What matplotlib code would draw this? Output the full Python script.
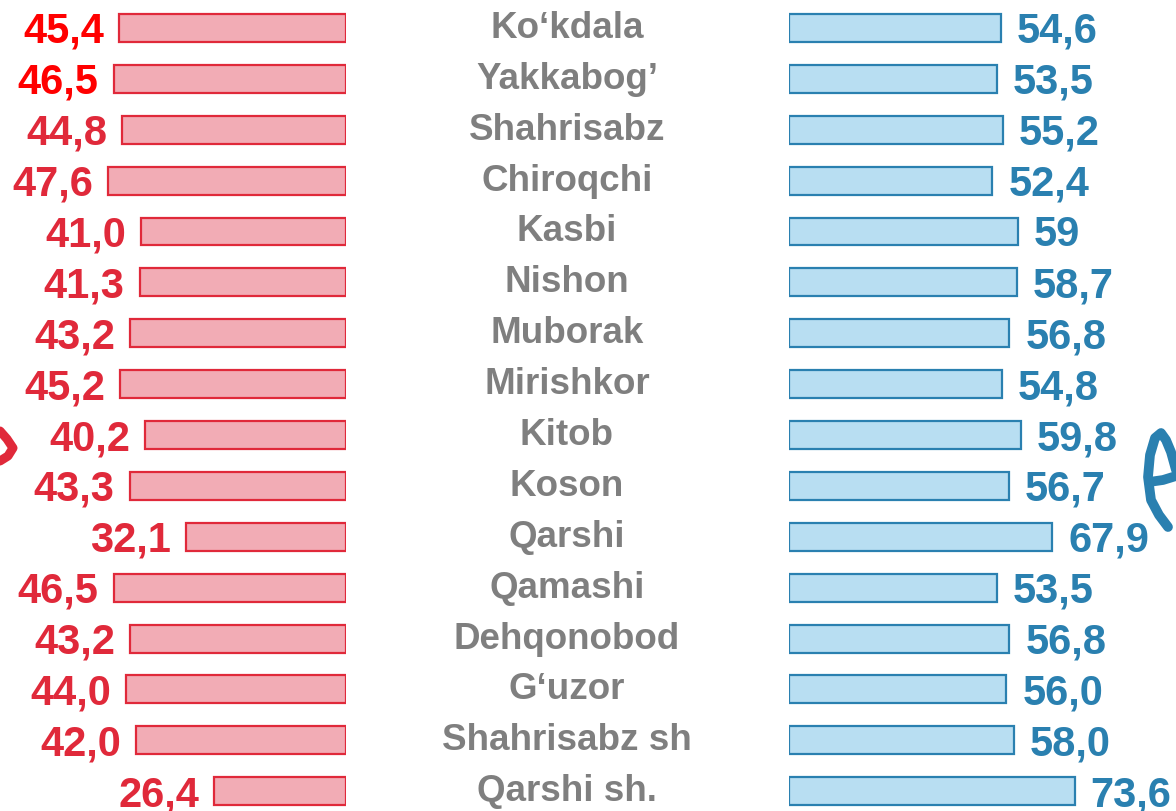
import numpy as np
import matplotlib
matplotlib.use("Agg")
import matplotlib.pyplot as plt

plt.rcParams["font.family"] = ["Liberation Sans", "DejaVu Sans"]

W, H = 1176, 811

districts = ["Ko‘kdala", "Yakkabog’", "Shahrisabz", "Chiroqchi", "Kasbi", "Nishon",
             "Muborak", "Mirishkor", "Kitob", "Koson", "Qarshi", "Qamashi",
             "Dehqonobod", "G‘uzor", "Shahrisabz sh", "Qarshi sh."]
women = [45.4, 46.5, 44.8, 47.6, 41.0, 41.3, 43.2, 45.2, 40.2, 43.3, 32.1, 46.5,
         43.2, 44.0, 42.0, 26.4]
women_labels = ["45,4", "46,5", "44,8", "47,6", "41,0", "41,3", "43,2", "45,2", "40,2",
                "43,3", "32,1", "46,5", "43,2", "44,0", "42,0", "26,4"]
men = [54.6, 53.5, 55.2, 52.4, 59.0, 58.7, 56.8, 54.8, 59.8, 56.7, 67.9, 53.5,
       56.8, 56.0, 58.0, 73.6]
men_labels = ["54,6", "53,5", "55,2", "52,4", "59", "58,7", "56,8", "54,8", "59,8",
              "56,7", "67,9", "53,5", "56,8", "56,0", "58,0", "73,6"]

RED_FILL, RED_EDGE = "#F2ACB5", "#E0293A"
BLUE_FILL, BLUE_EDGE = "#B8DEF2", "#2A80B0"
GRAY = "#7F7F7F"

y = np.arange(len(districts))
ylim = (15.39, -0.55)

fig = plt.figure(figsize=(W / 100, H / 100), dpi=100)

# left panel (women), bars grow to the left from x=346px
axL = fig.add_axes([0, 0, 346 / W, 1])
axL.barh(y, women, height=0.55, color=RED_FILL, edgecolor=RED_EDGE, linewidth=1.6)
axL.set_xlim(346 / 5.0, 0)
axL.set_ylim(*ylim)
axL.axis("off")

# right panel (men), bars grow to the right from x=789px
axR = fig.add_axes([789 / W, 0, (W - 789) / W, 1])
axR.barh(y, men, height=0.55, color=BLUE_FILL, edgecolor=BLUE_EDGE, linewidth=1.6)
axR.set_xlim(0, (W - 789) / 3.88)
axR.set_ylim(*ylim)
axR.axis("off")

for i, (v, lbl) in enumerate(zip(women, women_labels)):
    col = "#FF0000" if i < 2 else RED_EDGE
    axL.annotate(lbl, xy=(v, i), xytext=(-15, -15), textcoords="offset pixels",
                 ha="right", va="baseline", fontsize=30, fontweight="bold",
                 color=col, annotation_clip=False)

for i, (v, lbl) in enumerate(zip(men, men_labels)):
    axR.annotate(lbl, xy=(v, i), xytext=(16, -15), textcoords="offset pixels",
                 ha="left", va="baseline", fontsize=30, fontweight="bold",
                 color=BLUE_EDGE, annotation_clip=False)

for i, name in enumerate(districts):
    axL.annotate(name, xy=(567 / W, i), xycoords=("figure fraction", "data"),
                 xytext=(0, -10), textcoords="offset pixels",
                 ha="center", va="baseline", fontsize=26.5, fontweight="bold",
                 color=GRAY, annotation_clip=False)

# partial hand-drawn marks at the edges
deco = fig.add_axes([0, 0, 1, 1])
deco.set_xlim(0, W)
deco.set_ylim(H, 0)
deco.axis("off")
deco.patch.set_alpha(0)
deco.plot([0, 7, 13, 8, 0], [431, 439, 448, 456, 461], color=RED_EDGE,
          lw=6.5, solid_capstyle="round", solid_joinstyle="round")
deco.plot([1176, 1171, 1166, 1161, 1155, 1150, 1148, 1151, 1159, 1168],
          [470, 452, 440, 433, 438, 455, 477, 500, 515, 527], color=BLUE_EDGE,
          lw=7, solid_capstyle="round", solid_joinstyle="round")
deco.plot([1149, 1163, 1176], [482, 480, 476], color=BLUE_EDGE, lw=7,
          solid_capstyle="round")

fig.savefig("out.png", dpi=100)
